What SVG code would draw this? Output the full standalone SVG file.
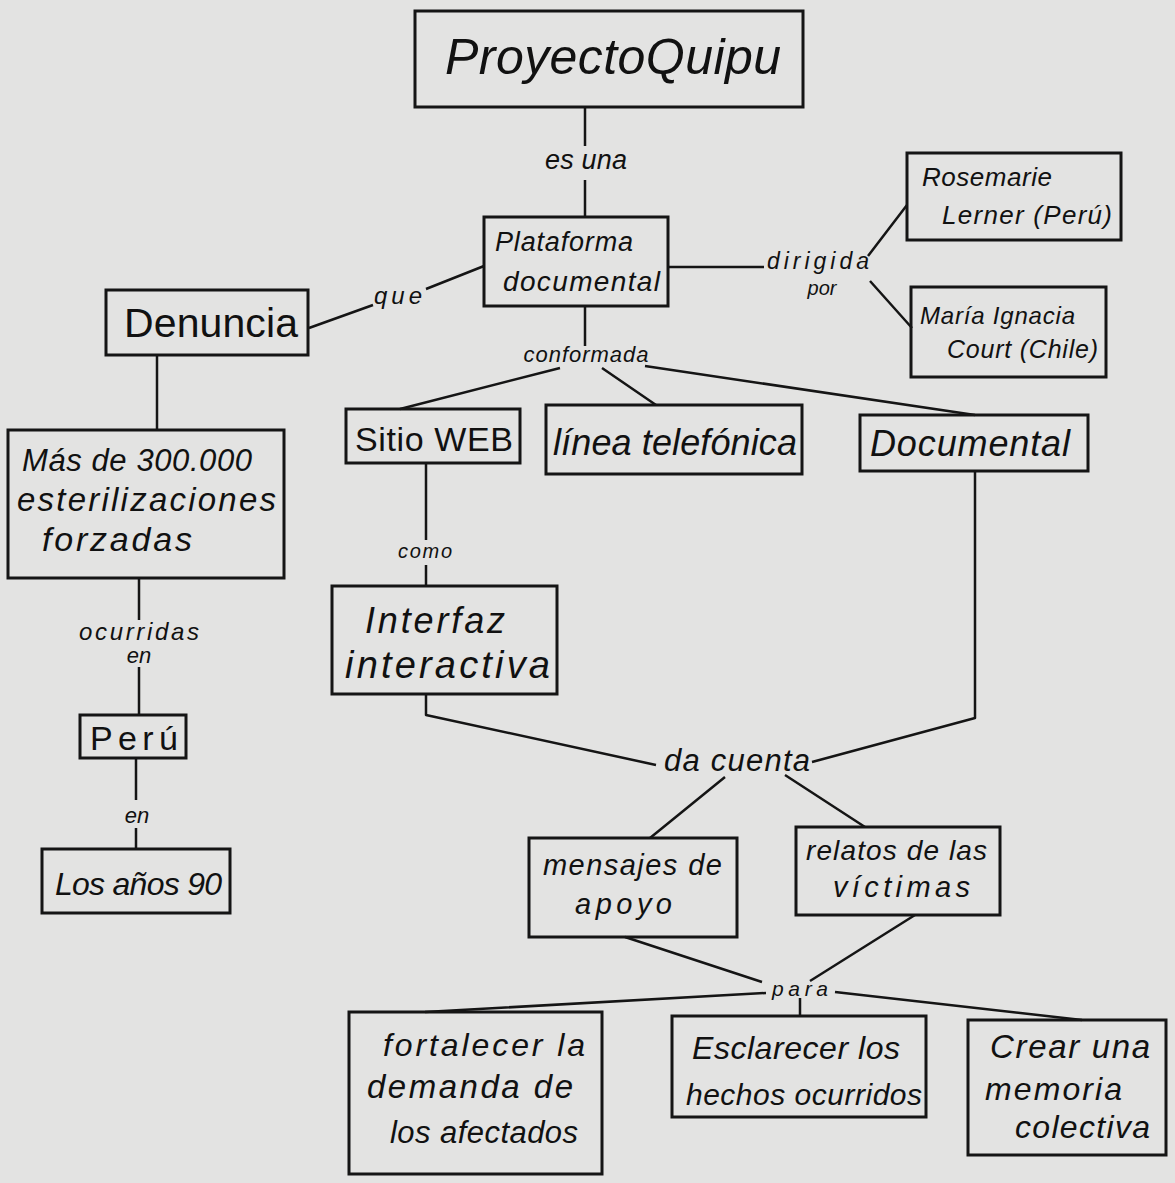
<svg xmlns="http://www.w3.org/2000/svg" width="1175" height="1183" viewBox="0 0 1175 1183">
<style>
.bg{fill:#e3e3e2}
.box{fill:none;stroke:#151515;stroke-width:3}
.ln{fill:none;stroke:#151515;stroke-width:2.5;stroke-linejoin:round}
text{font-family:"Liberation Sans",Arial,sans-serif;fill:#111}
.cur{font-style:italic}
.lbl{font-size:22px;font-style:italic;text-anchor:middle}
.mid{text-anchor:middle}
</style>
<rect class="bg" x="0" y="0" width="1175" height="1183"/>

<g id="connectors">
  <path class="ln" d="M585,107 V146 M585,180 V217"/>
  <path class="ln" d="M484,266 L426,289 M373,305 L309,328"/>
  <path class="ln" d="M668,267 H764 M868,256 L907,205 M870,281 L912,328"/>
  <path class="ln" d="M585,306 V346 M560,368 L400,409 M602,368 L656,405 M645,366 L975,415"/>
  <path class="ln" d="M426,463 V540 M426,565 V586"/>
  <path class="ln" d="M426,694 V715 L656,765"/>
  <path class="ln" d="M975,471 V718 L812,762"/>
  <path class="ln" d="M725,777 L650,838 M785,775 L865,827"/>
  <path class="ln" d="M625,937 L762,982 M915,915 L810,981"/>
  <path class="ln" d="M766,993 L425,1012 M800,998 V1016 M835,992 L1082,1020"/>
  <path class="ln" d="M157,355 V430"/>
  <path class="ln" d="M139,578 V620 M139,667 V715"/>
  <path class="ln" d="M136,758 V800 M136,828 V849"/>
  <text class="lbl" x="586" y="169" style="font-size:27px" textLength="82">es una</text>
  <text class="lbl" x="398" y="304" style="font-size:24px" textLength="48">que</text>
  <text class="lbl" x="818" y="269" style="font-size:23px" textLength="102">dirigida</text>
  <text class="lbl" x="822" y="295" style="font-size:20px">por</text>
  <text class="lbl" x="586" y="362" textLength="125">conformada</text>
  <text class="lbl" x="425" y="558" textLength="54" style="font-size:20px">como</text>
  <text class="lbl" x="139" y="640" style="font-size:24px" textLength="120">ocurridas</text>
  <text class="lbl" x="139" y="663">en</text>
  <text class="lbl" x="137" y="823">en</text>
  <text class="lbl" x="737" y="771" textLength="146" style="font-size:31px">da cuenta</text>
  <text class="lbl" x="800" y="996" textLength="56" style="font-size:21px">para</text>
</g>

<g id="n-proyecto">
  <rect class="box" x="415" y="11" width="388" height="96"/>
  <text class="mid cur" x="613" y="74" font-size="50" textLength="336">ProyectoQuipu</text>
</g>
<g id="n-plataforma">
  <rect class="box" x="484" y="217" width="184" height="89"/>
  <text class="cur" x="495" y="251" font-size="27" textLength="138">Plataforma</text>
  <text class="cur" x="503" y="291" font-size="28" textLength="157">documental</text>
</g>
<g id="n-rosemarie">
  <rect class="box" x="907" y="153" width="214" height="87"/>
  <text class="cur" x="922" y="186" font-size="26" textLength="130">Rosemarie</text>
  <text class="cur" x="942" y="224" font-size="26" textLength="170">Lerner (Perú)</text>
</g>
<g id="n-maria">
  <rect class="box" x="911" y="287" width="195" height="90"/>
  <text class="cur" x="920" y="324" font-size="24" textLength="155">María Ignacia</text>
  <text class="cur" x="947" y="358" font-size="25" textLength="151">Court (Chile)</text>
</g>
<g id="n-denuncia">
  <rect class="box" x="106" y="290" width="202" height="65"/>
  <text class="mid" x="211" y="337" font-size="41" textLength="174">Denuncia</text>
</g>
<g id="n-esterilizaciones">
  <rect class="box" x="8" y="430" width="276" height="148"/>
  <text class="cur" x="22" y="471" font-size="31" textLength="230">Más de 300.000</text>
  <text class="cur" x="17" y="511" font-size="33" textLength="259">esterilizaciones</text>
  <text class="cur" x="42" y="551" font-size="34" textLength="150">forzadas</text>
</g>
<g id="n-peru">
  <rect class="box" x="80" y="715" width="106" height="43"/>
  <text class="mid" x="134" y="750" font-size="34" textLength="88">Perú</text>
</g>
<g id="n-anos">
  <rect class="box" x="42" y="849" width="188" height="64"/>
  <text class="cur" x="55" y="895" font-size="32" textLength="167">Los años 90</text>
</g>
<g id="n-sitio">
  <rect class="box" x="346" y="409" width="174" height="54"/>
  <text class="mid" x="434" y="451" font-size="34" textLength="158">Sitio WEB</text>
</g>
<g id="n-linea">
  <rect class="box" x="546" y="405" width="256" height="69"/>
  <text class="cur" x="553" y="455" font-size="36" textLength="244">línea telefónica</text>
</g>
<g id="n-documental">
  <rect class="box" x="860" y="415" width="228" height="56"/>
  <text class="cur" x="870" y="456" font-size="36" textLength="200">Documental</text>
</g>
<g id="n-interfaz">
  <rect class="box" x="332" y="586" width="225" height="108"/>
  <text class="cur" x="365" y="633" font-size="36" textLength="140">Interfaz</text>
  <text class="cur" x="345" y="678" font-size="38" textLength="205">interactiva</text>
</g>
<g id="n-mensajes">
  <rect class="box" x="529" y="838" width="208" height="99"/>
  <text class="cur" x="543" y="875" font-size="29" textLength="179">mensajes de</text>
  <text class="cur" x="575" y="914" font-size="29" textLength="97">apoyo</text>
</g>
<g id="n-relatos">
  <rect class="box" x="796" y="827" width="204" height="88"/>
  <text class="cur" x="806" y="860" font-size="28" textLength="181">relatos de las</text>
  <text class="cur" x="833" y="897" font-size="29" textLength="137">víctimas</text>
</g>
<g id="n-fortalecer">
  <rect class="box" x="349" y="1012" width="253" height="162"/>
  <text class="cur" x="383" y="1056" font-size="32" textLength="202">fortalecer la</text>
  <text class="cur" x="367" y="1098" font-size="33" textLength="206">demanda de</text>
  <text class="cur" x="390" y="1143" font-size="31" textLength="188">los afectados</text>
</g>
<g id="n-esclarecer">
  <rect class="box" x="672" y="1016" width="254" height="101"/>
  <text class="cur" x="692" y="1059" font-size="32" textLength="208">Esclarecer los</text>
  <text class="cur" x="686" y="1105" font-size="30" textLength="236">hechos ocurridos</text>
</g>
<g id="n-crear">
  <rect class="box" x="968" y="1020" width="198" height="135"/>
  <text class="cur" x="990" y="1058" font-size="33" textLength="160">Crear una</text>
  <text class="cur" x="985" y="1100" font-size="32" textLength="137">memoria</text>
  <text class="cur" x="1015" y="1138" font-size="32" textLength="135">colectiva</text>
</g>
</svg>
